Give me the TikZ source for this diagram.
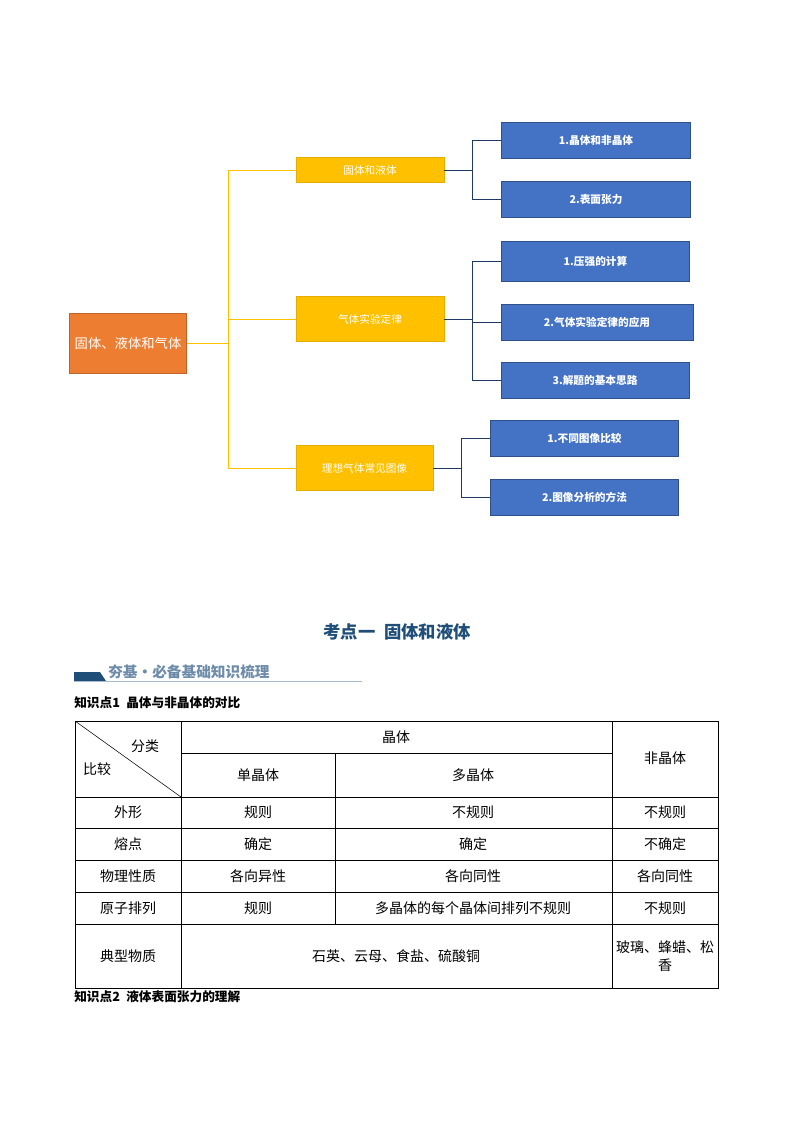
\documentclass[tikz,border=0pt]{standalone}
\usepackage{fontspec}
\setmainfont{Noto Sans CJK SC}
\usetikzlibrary{positioning}
\definecolor{myorange}{RGB}{237,125,49}
\definecolor{myyellow}{RGB}{255,192,0}
\definecolor{myblue}{RGB}{68,114,196}
\definecolor{mynavy}{RGB}{31,56,100}
\definecolor{mytitle}{RGB}{31,78,121}
\definecolor{mygray}{RGB}{110,140,170}
\begin{document}
\begin{tikzpicture}[x=0.75pt,y=-0.75pt,
  rootbox/.style={fill=myorange,draw=myorange!80!black,text=white,minimum width=88pt,minimum height=45pt,font=\fontsize{10}{12}\selectfont},
  midbox/.style={fill=myyellow,draw=myyellow!90!black,text=white,minimum width=111pt,font=\fontsize{8}{10}\selectfont},
  leafbox/.style={fill=myblue,draw=myblue!70!black,text=white,minimum height=27pt,font=\bfseries\fontsize{8}{10}\selectfont},
  yline/.style={draw=myyellow,thin},
  bline/.style={draw=mynavy,thin},
  cell/.style={font=\fontsize{10.5}{14}\selectfont,align=center}]

  \useasboundingbox (0,0) rectangle (794,1123);

  % mind map
  \node[rootbox] (root) at (128,343) {固体、液体和气体};
  \node[midbox,minimum height=19pt] (m1) at (370,170) {固体和液体};
  \node[midbox,minimum height=34pt] (m2) at (370,319) {气体实验定律};
  \node[midbox,minimum height=34pt,minimum width=103pt] (m3) at (364.5,468) {理想气体常见图像};

  \node[leafbox,minimum width=142pt] (l1) at (596,140) {1.晶体和非晶体};
  \node[leafbox,minimum width=142pt] (l2) at (596,199.5) {2.表面张力};
  \node[leafbox,minimum width=141pt,minimum height=30pt] (l3) at (595.5,261) {1.压强的计算};
  \node[leafbox,minimum width=144pt] (l4) at (597,322.5) {2.气体实验定律的应用};
  \node[leafbox,minimum width=141pt] (l5) at (595,380.5) {3.解题的基本思路};
  \node[leafbox,minimum width=141pt] (l6) at (584.5,438.5) {1.不同图像比较};
  \node[leafbox,minimum width=141pt] (l7) at (584.5,497.5) {2.图像分析的方法};

  \coordinate (trunk) at (228,343);
  \draw[yline] (root.east) -- (trunk);
  \foreach \m in {m1,m2,m3}
    \draw[yline] (trunk) |- (\m.west);

  \foreach \m/\l in {m1/l1,m1/l2,m2/l3,m2/l4,m2/l5}
    \draw[bline] (\m.east) -- ++(28,0) |- (\l.west);
  \foreach \m/\l in {m3/l6,m3/l7}
    \draw[bline] (\m.east) -- ++(28,0) |- (\l.west);

  % headings
  \node[text=mytitle,font=\bfseries\fontsize{13}{15}\selectfont] (title) at (397,632) {考点一\hspace{0.5em}固体和液体};
  \fill[mytitle] (74,681) -- (74,672) -- (100,672) -- (106,681) -- cycle;
  \draw[mygray!60,line width=0.6pt] (74,681.5) -- (362,681.5);
  \node[anchor=south west,inner sep=0pt,text=mygray,font=\bfseries\fontsize{11}{13}\selectfont] (sec) at (108,679) {夯基·必备基础知识梳理};
  \node[anchor=west,inner sep=0pt,font=\bfseries\fontsize{9.5}{11}\selectfont] (kp1) at (74,703) {知识点1\hspace{0.5em}晶体与非晶体的对比};
  \node[anchor=west,inner sep=0pt,font=\bfseries\fontsize{9.5}{11}\selectfont] (kp2) at (74,997) {知识点2\hspace{0.5em}液体表面张力的理解};

  % table
  \draw[thin] (75,721) rectangle (718,988);
  \draw[thin] (181,721) -- (181,988) (612,721) -- (612,988);
  \draw[thin] (335,753) -- (335,924);
  \draw[thin] (181,753) -- (612,753);
  \foreach \y in {797,828,860,892,924}
    \draw[thin] (75,\y) -- (718,\y);
  \draw[thin] (75,721) -- (181,797);

  \node[cell] (h1) at (145,746) {分类};
  \node[cell] (h2) at (97,769) {比较};
  \node[cell] (h3) at (396,737) {晶体};
  \node[cell] (h4) at (665,758) {非晶体};
  \node[cell] (h5) at (258,775) {单晶体};
  \node[cell] (h6) at (473,775) {多晶体};

  \node[cell] (r1a) at (128,812) {外形};
  \node[cell] (r1b) at (258,812) {规则};
  \node[cell] (r1c) at (473,812) {不规则};
  \node[cell] (r1d) at (665,812) {不规则};
  \node[cell] (r2a) at (128,844) {熔点};
  \node[cell] (r2b) at (258,844) {确定};
  \node[cell] (r2c) at (473,844) {确定};
  \node[cell] (r2d) at (665,844) {不确定};
  \node[cell] (r3a) at (128,876) {物理性质};
  \node[cell] (r3b) at (258,876) {各向异性};
  \node[cell] (r3c) at (473,876) {各向同性};
  \node[cell] (r3d) at (665,876) {各向同性};
  \node[cell] (r4a) at (128,908) {原子排列};
  \node[cell] (r4b) at (258,908) {规则};
  \node[cell] (r4c) at (473,908) {多晶体的每个晶体间排列不规则};
  \node[cell] (r4d) at (665,908) {不规则};
  \node[cell] (r5a) at (128,956) {典型物质};
  \node[cell] (r5b) at (396,956) {石英、云母、食盐、硫酸铜};
  \node[cell] (r5d) at (665,956) {玻璃、蜂蜡、松\\香};
\end{tikzpicture}
\end{document}
